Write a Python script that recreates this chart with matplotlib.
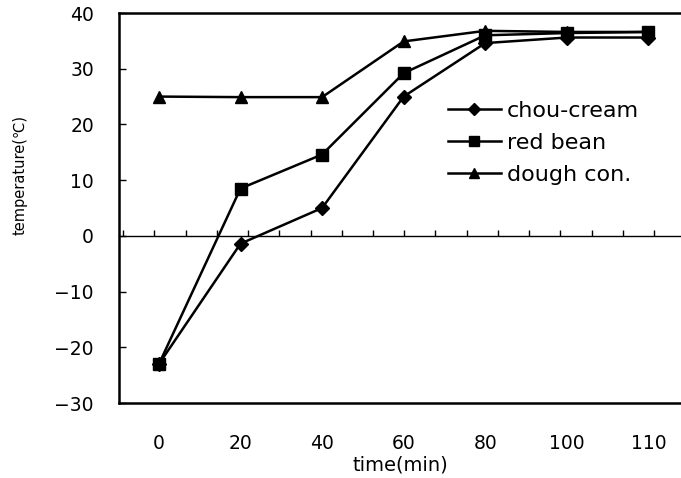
import numpy as np
import matplotlib
matplotlib.use("Agg")
import matplotlib.pyplot as plt

plt.rcParams['font.family'] = ['DejaVu Sans', 'Noto Sans CJK KR']

times = ["0", "20", "40", "60", "80", "100", "110"]
chou_cream = [-23, -1.4, 5, 25, 34.6, 35.6, 35.6]
red_bean = [-23, 8.5, 14.6, 29.2, 36.0, 36.4, 36.6]
dough_con = [25, 24.9, 24.9, 34.9, 36.8, 36.6, 36.6]

fig = plt.figure(figsize=(6.81, 4.78), dpi=100)
ax = fig.add_axes([0.1747, 0.1569, 0.8253, 0.8159])

x = np.arange(len(times))
ax.plot(x, chou_cream, color='black', lw=1.8, marker='D', ms=7, label='chou-cream')
ax.plot(x, red_bean, color='black', lw=1.8, marker='s', ms=8.5, label='red bean')
ax.plot(x, dough_con, color='black', lw=1.8, marker='^', ms=8.5, label='dough con.')

ax.set_xlim(-0.49, 6.4)
ax.set_ylim(-30, 40)
ax.set_yticks(np.arange(-30, 41, 10))
ax.set_xticks(x)
ax.set_xticklabels(times)
ax.tick_params(axis='x', length=0, pad=22, labelsize=13.5)
ax.tick_params(axis='y', direction='in', length=5, width=1, pad=18, labelsize=13.5)

for s in ['left', 'top', 'bottom']:
    ax.spines[s].set_linewidth(1.8)
ax.spines['right'].set_visible(False)

# zero line with its own tick marks
ax2 = ax.twiny()
ax2.set_xlim(ax.get_xlim())
ax2.spines['bottom'].set_position(('data', 0))
ax2.spines['bottom'].set_linewidth(1.0)
for s in ['top', 'left', 'right']:
    ax2.spines[s].set_visible(False)
ax2.xaxis.set_ticks_position('bottom')
ax2.set_xticks(np.arange(-0.44, 6.4, 0.383))
ax2.tick_params(axis='x', direction='in', length=4, width=1, labelbottom=False, labeltop=False)

ax.set_xlabel('time(min)', fontsize=14)
ax.xaxis.set_label_coords(0.5, -0.135)
ax.set_ylabel('temperature(℃)', fontsize=10.5)
ax.yaxis.set_label_coords(-0.162, 0.585)

ax.legend(loc='upper left', bbox_to_anchor=(0.585, 0.775), frameon=False, fontsize=16,
          handlelength=2.4, labelspacing=0.55, handletextpad=0.27, borderpad=0,
          borderaxespad=0, markerscale=0.85)

fig.savefig('out.png', dpi=100)
